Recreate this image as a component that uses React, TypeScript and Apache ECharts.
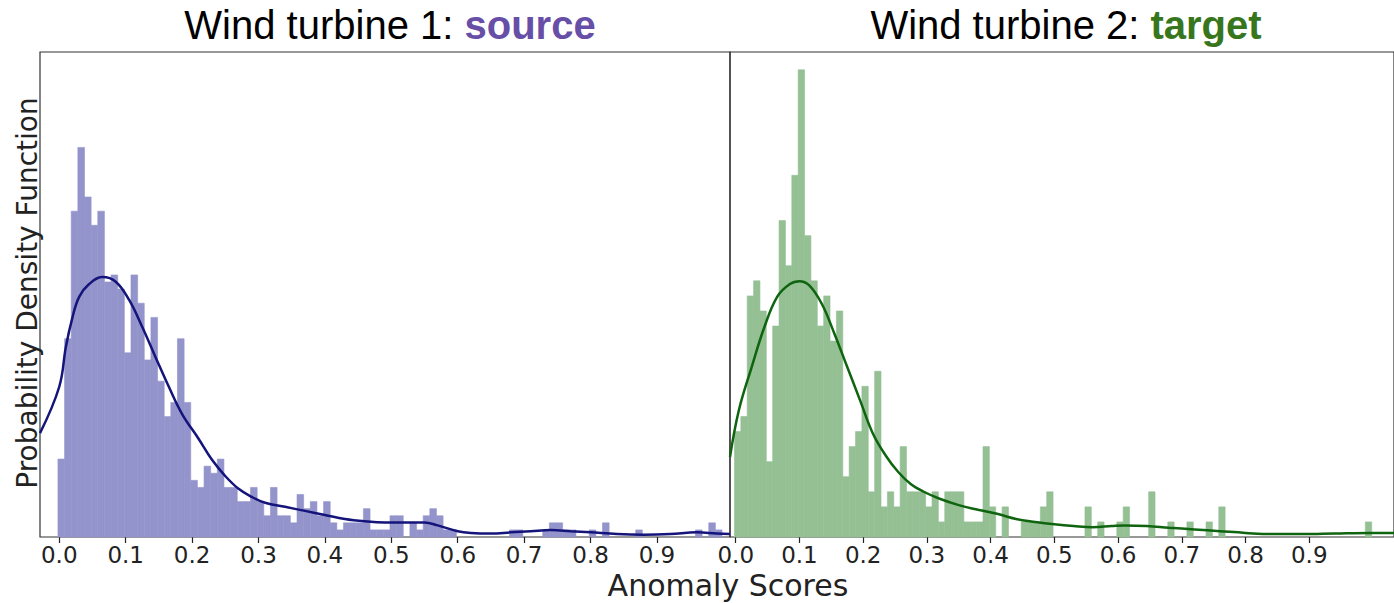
import React, { useEffect, useRef } from "react";
import * as echarts from "echarts";

// Histogram bins (width 0.01) — counts per bin
const BIN_START = -0.002;
const BIN_WIDTH = 0.01;

const sourceCounts = [
  11, 28, 46, 55, 48, 44, 46, 36, 37, 35,
  26, 37, 33, 25, 31, 22, 17, 19, 28, 19,
  8, 7, 10, 9, 11, 7, 7, 5, 5, 7,
  5, 3, 7, 3, 3, 2, 6, 4, 5, 3,
  5, 2, 1, 2, 2, 2, 4, 1, 1, 1,
  3, 3, 0, 2, 1, 3, 4, 3, 1, 1,
  0, 0, 0, 0, 0, 0, 0, 0, 1, 1,
  0, 0, 0, 1, 2, 2, 1, 1, 0, 0,
  1, 0, 2, 0, 0, 0, 0, 1, 0, 0,
  0, 0, 0, 0, 0, 0, 1, 0, 2, 1,
];

const targetCounts = [
  7, 8, 16, 17, 15, 5, 14, 21, 18, 24,
  31, 20, 17, 14, 16, 13, 15, 4, 6, 7,
  10, 3, 11, 2, 3, 2, 6, 3, 3, 3,
  2, 3, 1, 3, 3, 3, 1, 1, 1, 6,
  2, 0, 2, 0, 0, 1, 1, 1, 2, 3,
  0, 0, 0, 0, 0, 2, 0, 1, 0, 0,
  1, 2, 0, 0, 0, 3, 0, 0, 1, 0,
  0, 1, 0, 0, 1, 0, 2, 0, 0, 0,
  0, 0, 0, 0, 0, 0, 0, 0, 0, 0,
  0, 0, 0, 0, 0, 0, 0, 0, 0, 1,
];

// KDE curves: [anomaly score, density]
const sourceKde = [
  [-0.029, 1.79], [0.0, 2.59], [0.01, 3.28], [0.02, 3.79], [0.03, 4.14],
  [0.045, 4.36], [0.065, 4.48], [0.085, 4.4], [0.105, 4.09], [0.125, 3.62],
  [0.145, 3.1], [0.165, 2.59], [0.185, 2.12], [0.21, 1.69], [0.23, 1.33],
  [0.25, 1.05], [0.27, 0.83], [0.29, 0.69], [0.31, 0.59], [0.34, 0.52],
  [0.37, 0.45], [0.4, 0.38], [0.43, 0.31], [0.46, 0.27], [0.49, 0.25],
  [0.52, 0.25], [0.55, 0.25], [0.57, 0.2], [0.6, 0.1], [0.62, 0.07],
  [0.65, 0.06], [0.68, 0.08], [0.71, 0.1], [0.74, 0.12], [0.77, 0.1],
  [0.8, 0.08], [0.84, 0.05], [0.88, 0.04], [0.92, 0.05], [0.96, 0.08],
  [0.99, 0.06], [1.01, 0.05],
];

const targetKde = [
  [-0.009, 1.38], [0.005, 2.19], [0.025, 2.93], [0.045, 3.62], [0.065, 4.14],
  [0.085, 4.36], [0.1, 4.41], [0.115, 4.34], [0.135, 4.02], [0.155, 3.5],
  [0.175, 2.93], [0.195, 2.36], [0.215, 1.79], [0.235, 1.41], [0.255, 1.12],
  [0.275, 0.91], [0.295, 0.78], [0.32, 0.66], [0.35, 0.55], [0.38, 0.47],
  [0.41, 0.4], [0.44, 0.31], [0.47, 0.26], [0.5, 0.22], [0.53, 0.19],
  [0.56, 0.17], [0.59, 0.19], [0.61, 0.2], [0.645, 0.19], [0.68, 0.16],
  [0.72, 0.13], [0.76, 0.1], [0.8, 0.07], [0.84, 0.05], [0.89, 0.05],
  [0.94, 0.06], [0.995, 0.07], [1.033, 0.07],
];

const tickValues = [0, 0.1, 0.2, 0.3, 0.4, 0.5, 0.6, 0.7, 0.8, 0.9];

const Y_MAX = 8.36;

function toDensityBins(counts: number[]) {
  const n = counts.reduce((a, b) => a + b, 0);
  return counts.map((c, i) => [
    BIN_START + i * BIN_WIDTH,
    BIN_START + (i + 1) * BIN_WIDTH,
    c / (n * BIN_WIDTH),
  ]);
}

function histSeries(counts: number[], idx: number, color: string) {
  return {
    type: "custom",
    xAxisIndex: idx,
    yAxisIndex: idx,
    data: toDensityBins(counts),
    encode: { x: [0, 1], y: 2 },
    renderItem: (params: any, api: any) => {
      if (api.value(2) <= 0) return null;
      const tl = api.coord([api.value(0), api.value(2)]);
      const br = api.coord([api.value(1), 0]);
      return {
        type: "rect",
        shape: { x: tl[0], y: tl[1], width: br[0] - tl[0], height: br[1] - tl[1] },
        style: { fill: color, stroke: color, lineWidth: 0.6 },
      };
    },
    silent: true,
  };
}

function xAxis(idx: number, min: number, max: number) {
  return {
    type: "value",
    gridIndex: idx,
    min,
    max,
    axisLine: { show: false },
    splitLine: { show: false },
    axisTick: {
      show: true,
      customValues: tickValues,
      length: 6,
      lineStyle: { color: "#222", width: 1.2 },
    },
    axisLabel: {
      customValues: tickValues,
      formatter: (v: number) => v.toFixed(1),
      fontFamily: "DejaVu Sans",
      fontSize: 23,
      color: "#222",
      margin: 6,
    },
  };
}

function yAxis(idx: number) {
  return {
    type: "value",
    gridIndex: idx,
    min: 0,
    max: Y_MAX,
    axisLine: { show: false },
    axisTick: { show: false },
    axisLabel: { show: false },
    splitLine: { show: false },
  };
}

export default function App() {
  const ref = useRef<HTMLDivElement>(null);
  useEffect(() => {
    if (!ref.current) return;
    const chart = echarts.init(ref.current, undefined, { renderer: "svg" });
    chart.setOption({
      animation: false,
      backgroundColor: "#ffffff",
      grid: [
        { left: 40, top: 52, width: 690, height: 485, show: true, borderColor: "#333", borderWidth: 1.2, backgroundColor: "transparent" },
        { left: 730, top: 52, width: 690, height: 485, show: true, borderColor: "#333", borderWidth: 1.2, backgroundColor: "transparent" },
      ],
      xAxis: [xAxis(0, -0.029, 1.01), xAxis(1, -0.009, 1.033)],
      yAxis: [yAxis(0), yAxis(1)],
      series: [
        histSeries(sourceCounts, 0, "#9494cc"),
        {
          type: "line",
          xAxisIndex: 0,
          yAxisIndex: 0,
          data: sourceKde,
          smooth: 0.4,
          symbol: "none",
          lineStyle: { color: "#14147a", width: 2.5 },
          z: 5,
        },
        histSeries(targetCounts, 1, "#94c094"),
        {
          type: "line",
          xAxisIndex: 1,
          yAxisIndex: 1,
          data: targetKde,
          smooth: 0.4,
          symbol: "none",
          lineStyle: { color: "#0f640f", width: 2.5 },
          z: 5,
        },
      ],
      graphic: [
        {
          type: "text",
          x: 390,
          y: 25,
          style: {
            text: "{a|Wind turbine 1: }{b|source}",
            align: "center",
            verticalAlign: "middle",
            rich: {
              a: { fontFamily: "Liberation Sans", fontSize: 40, fill: "#000" },
              b: { fontFamily: "Liberation Sans", fontSize: 40, fontWeight: "bold", fill: "#674ea7" },
            },
          },
        },
        {
          type: "text",
          x: 1066,
          y: 25,
          style: {
            text: "{a|Wind turbine 2: }{b|target}",
            align: "center",
            verticalAlign: "middle",
            rich: {
              a: { fontFamily: "Liberation Sans", fontSize: 40, fill: "#000" },
              b: { fontFamily: "Liberation Sans", fontSize: 40, fontWeight: "bold", fill: "#38761d" },
            },
          },
        },
        {
          type: "text",
          x: 27,
          y: 293,
          rotation: Math.PI / 2,
          style: {
            text: "Probability Density Function",
            fontFamily: "DejaVu Sans",
            fontSize: 28,
            fill: "#222",
            align: "center",
            verticalAlign: "middle",
          },
        },
        {
          type: "text",
          x: 728,
          y: 585,
          style: {
            text: "Anomaly Scores",
            fontFamily: "DejaVu Sans",
            fontSize: 30,
            fill: "#222",
            align: "center",
            verticalAlign: "middle",
          },
        },
      ],
    });
    return () => chart.dispose();
  }, []);
  return (
    <div
      ref={ref}
      style={{ position: "fixed", left: 0, top: 0, width: 1394, height: 603 }}
    />
  );
}
